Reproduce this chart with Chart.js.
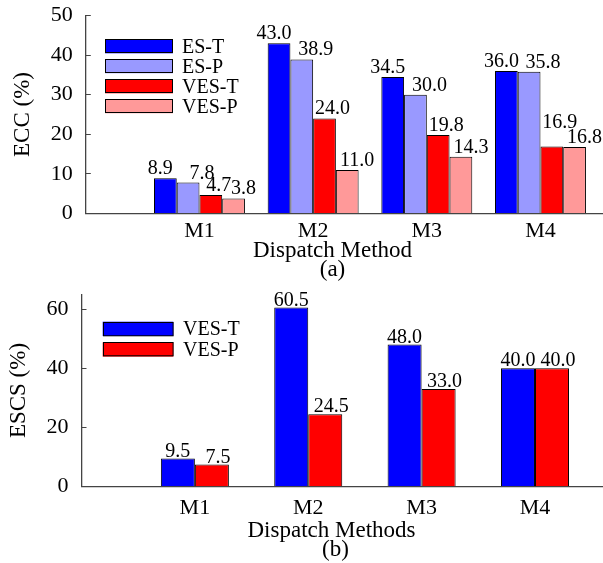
<!DOCTYPE html>
<html>
<head>
<meta charset="utf-8">
<script src="https://cdn.jsdelivr.net/npm/chart.js@4.4.1/dist/chart.umd.min.js"></script>
<style>
html, body { margin: 0; padding: 0; background: #fff; overflow: hidden; }
canvas { display: block; }
</style>
</head>
<body>
<canvas id="c1" width="603" height="281"></canvas>
<canvas id="c2" width="603" height="282"></canvas>
<script>
// ---- data ----
const categories = ['M1', 'M2', 'M3', 'M4'];

const eccSeriesNames = ['ES-T', 'ES-P', 'VES-T', 'VES-P'];
const eccEST  = [8.9, 43.0, 34.5, 36.0];
const eccESP  = [7.8, 38.9, 30.0, 35.8];
const eccVEST = [4.7, 24.0, 19.8, 16.9];
const eccVESP = [3.8, 11.0, 14.3, 16.8];
const eccTicks = [0, 10, 20, 30, 40, 50];

const escsSeriesNames = ['VES-T', 'VES-P'];
const escsVEST = [9.5, 60.5, 48.0, 40.0];
const escsVESP = [7.5, 24.5, 33.0, 40.0];
const escsTicks = [0, 20, 40, 60];

// ---- styling ----
const FONT = "'Liberation Serif', 'Times New Roman', serif";
Chart.defaults.font.family = FONT;
Chart.defaults.color = '#000';
const AXIS = '#444';

// value labels above bars; a label that would collide with its right-hand neighbour is lifted above it
const valueLabels = {
  id: 'valueLabels',
  afterDatasetsDraw(chart, args, o) {
    const ctx = chart.ctx;
    ctx.save();
    ctx.font = o.size + 'px ' + FONT;
    ctx.fillStyle = '#000';
    ctx.textAlign = 'center';
    ctx.textBaseline = 'alphabetic';
    const capH = o.size * 0.66;
    const nDs = chart.data.datasets.length;
    const nPts = chart.data.datasets[0].data.length;
    for (let i = 0; i < nPts; i++) {
      const placed = [];
      for (let di = nDs - 1; di >= 0; di--) {
        const ds = chart.data.datasets[di];
        const el = chart.getDatasetMeta(di).data[i];
        const text = ds.data[i].y.toFixed(1);
        const w = ctx.measureText(text).width;
        const x = el.x + ((o.dx && o.dx[di]) || 0);
        let base = el.y - o.gap;
        let moved = true;
        while (moved) {
          moved = false;
          for (const p of placed) {
            const hov = Math.min(x + w / 2, p.x + p.w / 2) - Math.max(x - w / 2, p.x - p.w / 2);
            const vov = Math.min(base, p.base) - Math.max(base - capH, p.base - capH);
            if (hov > 4 && vov > 2) { base = p.base - capH - 2; moved = true; }
          }
        }
        placed.push({ x, w, base });
        ctx.fillText(text, x, base);
      }
    }
    ctx.restore();
  }
};

const boxLegend = {
  id: 'boxLegend',
  afterDraw(chart, args, o) {
    const { ctx, chartArea } = chart;
    ctx.save();
    ctx.font = o.size + 'px ' + FONT;
    ctx.textAlign = 'left';
    ctx.textBaseline = 'middle';
    chart.data.datasets.forEach((ds, i) => {
      const x = chartArea.left + o.x;
      const y = chartArea.top + o.y + i * o.row;
      ctx.fillStyle = ds.backgroundColor;
      ctx.fillRect(x, y, o.w, o.h);
      ctx.strokeStyle = '#000';
      ctx.lineWidth = 1;
      ctx.strokeRect(Math.round(x) + 0.5, Math.round(y) + 0.5, o.w - 1, o.h - 1);
      ctx.fillStyle = '#000';
      ctx.fillText(ds.label, x + o.w + o.gap, y + o.h / 2 + 1);
    });
    ctx.restore();
  }
};

const xTitle = {
  id: 'xTitle',
  afterDraw(chart, args, o) {
    const { ctx, chartArea } = chart;
    ctx.save();
    ctx.font = o.size + 'px ' + FONT;
    ctx.fillStyle = '#000';
    ctx.textAlign = 'center';
    ctx.textBaseline = 'alphabetic';
    o.lines.forEach((t, i) => ctx.fillText(t, chartArea.left + o.x[i], chartArea.bottom + o.y[i]));
    ctx.restore();
  }
};

function makeChart(canvas, cfg) {
  return new Chart(canvas, {
    type: 'bar',
    data: {
      datasets: cfg.series.map((vals, i) => ({
        label: cfg.names[i],
        data: vals.map((v, j) => ({ x: j + 1, y: v })),
        backgroundColor: cfg.colors[i],
        borderColor: '#000',
        borderWidth: 1,
        categoryPercentage: cfg.catPct,
        barPercentage: 1.0
      }))
    },
    plugins: [valueLabels, boxLegend, xTitle],
    options: {
      responsive: false,
      animation: false,
      layout: { padding: { top: cfg.top, left: 0, right: 0, bottom: 0 } },
      plugins: {
        legend: { display: false },
        tooltip: { enabled: false },
        valueLabels: { size: 20, gap: cfg.gap, dx: cfg.labelDx },
        boxLegend: cfg.legend,
        xTitle: cfg.xTitle
      },
      scales: {
        x: {
          type: 'linear',
          offset: false,
          min: 0,
          max: cfg.xMax,
          grid: { display: false, drawTicks: false, offset: false },
          border: { display: true, color: AXIS, width: 1.3 },
          afterBuildTicks: s => { s.ticks = categories.map((c, i) => ({ value: i + 1 })); },
          ticks: {
            callback: v => categories[v - 1] ?? '',
            font: { size: 22 },
            padding: cfg.xPad,
            autoSkip: false,
            maxRotation: 0
          },
          afterFit: s => { s.height = cfg.xH; s.paddingLeft = 0; s.paddingRight = 0; }
        },
        y: {
          min: 0,
          max: cfg.yMax,
          grid: { display: true, drawOnChartArea: false, tickLength: -5, color: AXIS, tickColor: AXIS, tickWidth: 1 },
          border: { display: true, color: AXIS, width: 1.3 },
          afterBuildTicks: s => { s.ticks = cfg.yTicks.map(v => ({ value: v })); },
          ticks: { font: { size: 22 }, padding: 18, callback: v => String(v) },
          title: { display: true, text: cfg.yTitle, font: { size: 23 }, padding: { top: cfg.yTitlePad, bottom: 0 } },
          afterFit: s => { s.width = cfg.yW; s.paddingTop = 0; s.paddingBottom = 0; }
        }
      }
    }
  });
}

makeChart(document.getElementById('c1'), {
  names: eccSeriesNames,
  series: [eccEST, eccESP, eccVEST, eccVESP],
  colors: ['#0000FF', '#9999FF', '#FF0000', '#FF9999'],
  catPct: 0.8,
  top: 15.5, yW: 85.8, xH: 67.5, xMax: 4.55, xPad: 5,
  yMax: 50, yTicks: eccTicks, yTitle: 'ECC (%)', yTitlePad: 8.7,
  gap: 4, labelDx: [-5, 14, 8, 10],
  legend: { x: 19.2, y: 23.8, w: 68, h: 14, row: 20, gap: 9, size: 20 },
  xTitle: { lines: ['Dispatch Method', '(a)'], x: [246.7, 246.7], y: [43.2, 62.5], size: 23 }
});

makeChart(document.getElementById('c2'), {
  names: escsSeriesNames,
  series: [escsVEST, escsVESP],
  colors: ['#0000FF', '#FF0000'],
  catPct: 0.6,
  top: 13.3, yW: 81.5, xH: 76.3, xMax: 4.6, xPad: 8.5,
  yMax: 65, yTicks: escsTicks, yTitle: 'ESCS (%)', yTitlePad: 5.5,
  gap: 2, labelDx: [0, 6],
  legend: { x: 21.2, y: 27.4, w: 70.6, h: 14.3, row: 20.6, gap: 9.7, size: 20 },
  xTitle: { lines: ['Dispatch Methods', '(b)'], x: [250, 254], y: [50, 69.3], size: 23 }
});
</script>
</body>
</html>
